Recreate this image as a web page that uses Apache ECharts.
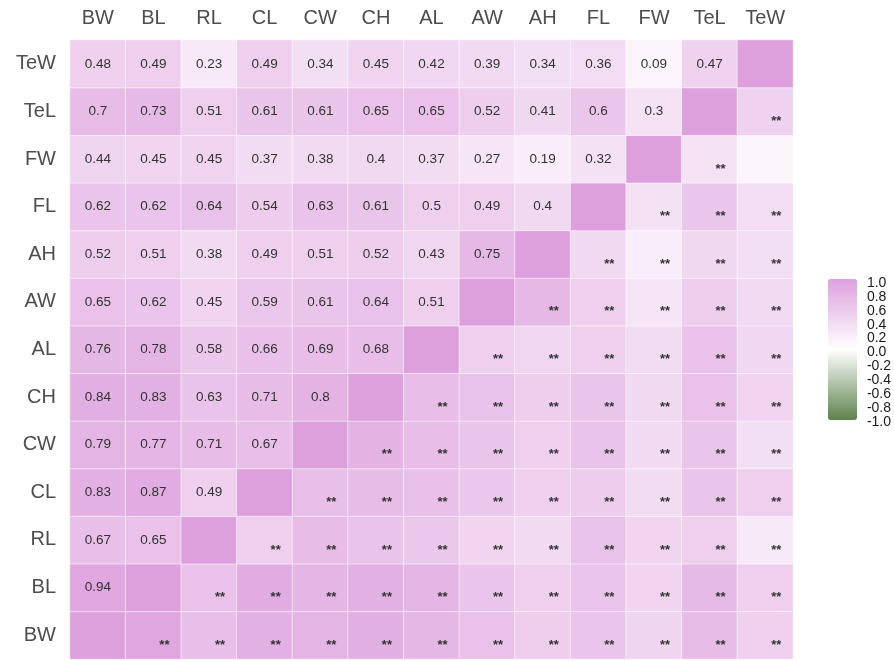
<!DOCTYPE html>
<html>
<head>
<meta charset="utf-8">
<script src="https://cdn.jsdelivr.net/npm/echarts@6/dist/echarts.min.js"></script>
<style>html,body{margin:0;padding:0;background:#fff}#c{width:894px;height:661px}</style>
</head>
<body>
<div id="c"></div>
<script>
// variables (x axis left->right; y axis bottom->top)
const vars = ['BW','BL','RL','CL','CW','CH','AL','AW','AH','FL','FW','TeL','TeW'];
// lower-triangle correlations: row var -> values for columns BW.. (before diagonal)
const rBL  = [0.94];
const rRL  = [0.67,0.65];
const rCL  = [0.83,0.87,0.49];
const rCW  = [0.79,0.77,0.71,0.67];
const rCH  = [0.84,0.83,0.63,0.71,0.8];
const rAL  = [0.76,0.78,0.58,0.66,0.69,0.68];
const rAW  = [0.65,0.62,0.45,0.59,0.61,0.64,0.51];
const rAH  = [0.52,0.51,0.38,0.49,0.51,0.52,0.43,0.75];
const rFL  = [0.62,0.62,0.64,0.54,0.63,0.61,0.5,0.49,0.4];
const rFW  = [0.44,0.45,0.45,0.37,0.38,0.4,0.37,0.27,0.19,0.32];
const rTeL = [0.7,0.73,0.51,0.61,0.61,0.65,0.65,0.52,0.41,0.6,0.3];
const rTeW = [0.48,0.49,0.23,0.49,0.34,0.45,0.42,0.39,0.34,0.36,0.09,0.47];
// non-significant pairs (no stars)
const notSig = [['FW','TeW']];
const legendTicks = [-1,-0.8,-0.6,-0.4,-0.2,0,0.2,0.4,0.6,0.8,1];

const lower = {BL:rBL,RL:rRL,CL:rCL,CW:rCW,CH:rCH,AL:rAL,AW:rAW,AH:rAH,FL:rFL,FW:rFW,TeL:rTeL,TeW:rTeW};
function corr(a,b){
  if(a===b) return 1;
  const ia=vars.indexOf(a), ib=vars.indexOf(b);
  return ia>ib ? lower[a][ib] : lower[b][ia];
}
function isNotSig(a,b){return notSig.some(p=>(p[0]===a&&p[1]===b)||(p[0]===b&&p[1]===a));}

const data=[];
for(let j=0;j<vars.length;j++){      // row (y)
  for(let i=0;i<vars.length;i++){    // column (x)
    const v=corr(vars[j],vars[i]);
    const item={value:[i,j,v]};
    if(i<j){
      item.label={show:true,formatter:String(v),fontSize:13.5,color:'#333',fontFamily:'Liberation Sans, Arial, sans-serif'};
    }else if(i>j && !isNotSig(vars[i],vars[j])){
      item.label={show:true,formatter:'**',fontSize:13,fontWeight:'bold',color:'#333',offset:[11,10],fontFamily:'Liberation Sans, Arial, sans-serif'};
    }else{
      item.label={show:false};
    }
    data.push(item);
  }
}

const chart=echarts.init(document.getElementById('c'));
chart.setOption({
  animation:false,
  backgroundColor:'#fff',
  grid:[
    {left:70,top:40,width:723,height:619},
    {left:828,top:283,width:29,height:139}
  ],
  xAxis:[
    {type:'category',data:vars,position:'top',gridIndex:0,
     axisLine:{show:false},axisTick:{show:false},splitLine:{show:false},
     axisLabel:{fontSize:20,color:'#4d4d4d',margin:12,fontFamily:'Liberation Sans, Arial, sans-serif'}},
    {type:'value',gridIndex:1,show:false}
  ],
  yAxis:[
    {type:'category',data:vars,gridIndex:0,
     axisLine:{show:false},axisTick:{show:false},splitLine:{show:false},
     axisLabel:{fontSize:20,color:'#4d4d4d',margin:14,fontFamily:'Liberation Sans, Arial, sans-serif'}},
    {type:'value',gridIndex:1,min:-1,max:1,interval:0.2,position:'right',
     axisLine:{show:false},splitLine:{show:false},axisTick:{show:false},
     axisLabel:{formatter:v=>v.toFixed(1),fontSize:14,color:'#1a1a1a',margin:10,lineHeight:13,
       fontFamily:'Liberation Sans, Arial, sans-serif',
       customValues:legendTicks}},
    {type:'value',gridIndex:1,min:-1,max:1,interval:0.2,position:'left',show:false}
  ],
  visualMap:{
    type:'continuous',min:-1,max:1,calculable:false,seriesIndex:0,
    orient:'vertical',left:823,top:274,padding:5,
    itemWidth:29,itemHeight:141,text:['',''],showLabel:false,
    inRange:{color:['#5d834c','#ffffff','#dda0dd']},
    z:1
  },
  series:[{
    type:'heatmap',xAxisIndex:0,yAxisIndex:0,data:data,
    itemStyle:{borderColor:'rgba(255,255,255,0.55)',borderWidth:1},
    emphasis:{disabled:true}
  },{
    type:'line',xAxisIndex:1,yAxisIndex:1,data:[],silent:true
  }]
});
</script>
</body>
</html>
